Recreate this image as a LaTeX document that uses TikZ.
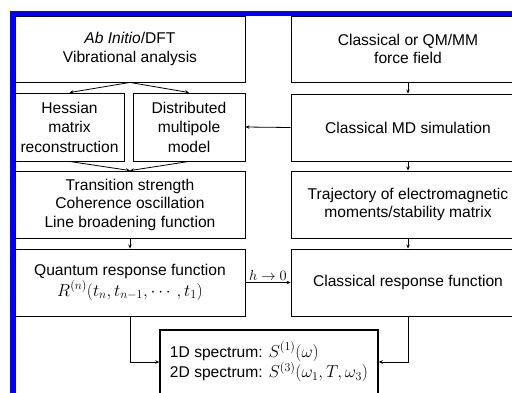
\documentclass[tikz,border=0pt]{standalone}
\usepackage{fontspec}
\setmainfont{Liberation Sans}
\usepackage{amsmath}
\usetikzlibrary{arrows.meta}

\tikzset{
  box/.style={draw, line width=0.9pt, align=center, inner sep=1pt,
    font=\fontsize{15.6}{18.5}\selectfont},
  arr/.style={-{Stealth[length=4pt,width=3.5pt]}, line width=0.8pt},
}
% groessere Formeln
\newcommand{\bigmath}[1]{{\fontsize{17.2}{19}\selectfont$#1$}}

\begin{document}
\begin{tikzpicture}[x=1pt,y=-1pt]
    % Rahmen
    \useasboundingbox (0,0) rectangle (512,392);
    \clip (0,0) rectangle (512,392);
    \draw[blue, line width=5.5pt] (13,13.5) rectangle (540,420);

    % Quantenseite
    \node[box, minimum width=230pt, minimum height=66pt] (abi) at (130,49)
        {\textit{Ab Initio}/DFT\\Vibrational analysis};
    \node[box, minimum width=109pt, minimum height=68pt] (hes) at (69.5,127)
        {Hessian\\[1pt]matrix\\[1pt]reconstruction};
    \node[box, minimum width=112pt, minimum height=68pt] (dmp) at (189,127)
        {Distributed\\[1pt]multipole\\[1pt]model};
    \node[box, minimum width=230pt, minimum height=67pt] (trs) at (130,204.5)
        {Transition strength\\Coherence oscillation\\Line broadening function};
    \node[box, minimum width=230pt, minimum height=67pt] (qrf) at (130,282.5)
        {Quantum response function\\[1pt]\bigmath{R^{(n)}(t_n,t_{n-1},\cdots,t_1)}};

    % klassische Seite
    \node[box, minimum width=234pt, minimum height=66pt] (ff) at (408,49)
        {Classical or QM/MM\\force field};
    \node[box, minimum width=234pt, minimum height=67pt] (md) at (408,127.5)
        {Classical MD simulation};
    \node[box, minimum width=234pt, minimum height=67pt] (trj) at (408,204.5)
        {Trajectory of electromagnetic\\moments/stability matrix};
    \node[box, minimum width=234pt, minimum height=67pt] (crf) at (408,282.5)
        {Classical response function};

    % Spektren
    \node[box, line width=1.6pt, minimum width=218pt, minimum height=64pt, align=left] (spec) at (269,362)
        {1D spectrum: \bigmath{S^{(1)}(\omega)}\\2D spectrum: \bigmath{S^{(3)}(\omega_1,T,\omega_3)}};

    % Pfeile
    \draw[arr] (abi.south) -- (hes.north);
    \draw[arr] (abi.south) -- (dmp.north);
    \draw[arr] (hes.south) -- (trs.north);
    \draw[arr] (dmp.south) -- (trs.north);
    \draw[arr] (trs) -- (qrf);
    \foreach \a/\b in {ff/md, md/trj, trj/crf}
        \draw[arr] (\a) -- (\b);
    \draw[arr] (md.west) -- (dmp.east);
    \draw[arr] (qrf.east) -- node[above, inner sep=2pt, font=\fontsize{15.6}{18.5}\selectfont] (lim) {$h\rightarrow 0$} (crf.west);
    \draw[arr] (qrf.south) |- (spec.west);
    \draw[arr] (crf.south) |- (spec.east);
\end{tikzpicture}
\end{document}
